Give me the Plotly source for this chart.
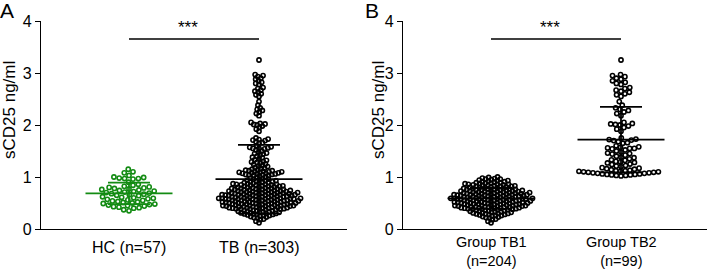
import numpy as np
import plotly.graph_objects as go

# ---------------- data ----------------
HC = [1.15, 1.10, 1.08, 1.03, 1.00, 0.99, 0.98, 0.97, 0.97, 0.96,
      0.90, 0.86, 0.84, 0.82, 0.81, 0.80, 0.79, 0.78, 0.77, 0.76,
      0.75, 0.74, 0.73, 0.72, 0.71, 0.70, 0.69, 0.68, 0.67, 0.66,
      0.65, 0.64, 0.62, 0.61, 0.60, 0.59, 0.58, 0.57, 0.56, 0.55,
      0.54, 0.53, 0.52, 0.51, 0.50, 0.49, 0.48, 0.47, 0.46, 0.45,
      0.44, 0.43, 0.42, 0.41, 0.40, 0.37, 0.35]

TB1 = [0.12, 0.15, 0.18, 0.19,
       0.21, 0.22, 0.23, 0.24, 0.25, 0.26, 0.26, 0.27, 0.28, 0.28, 0.29, 0.29,
       0.30, 0.30, 0.31, 0.31, 0.32, 0.32, 0.33, 0.33, 0.34, 0.34, 0.35, 0.35,
       0.36, 0.36, 0.37, 0.37, 0.38, 0.38, 0.39, 0.39, 0.39, 0.38,
       0.40, 0.40, 0.41, 0.41, 0.41, 0.42, 0.42, 0.42, 0.43, 0.43, 0.43, 0.44,
       0.44, 0.44, 0.45, 0.45, 0.45, 0.46, 0.46, 0.46, 0.47, 0.47, 0.47, 0.48,
       0.48, 0.48, 0.49, 0.49, 0.49, 0.40, 0.45, 0.48,
       0.50, 0.50, 0.50, 0.51, 0.51, 0.51, 0.52, 0.52, 0.52, 0.53, 0.53, 0.53,
       0.54, 0.54, 0.54, 0.55, 0.55, 0.55, 0.56, 0.56, 0.56, 0.57, 0.57, 0.57,
       0.58, 0.58, 0.58, 0.59, 0.59, 0.59, 0.50, 0.53, 0.55, 0.57, 0.58, 0.59,
       0.60, 0.60, 0.60, 0.61, 0.61, 0.61, 0.62, 0.62, 0.62, 0.63, 0.63, 0.63,
       0.64, 0.64, 0.64, 0.65, 0.65, 0.65, 0.66, 0.66, 0.66, 0.67, 0.67, 0.67,
       0.68, 0.68, 0.68, 0.69, 0.69, 0.69, 0.62, 0.64, 0.66, 0.68,
       0.70, 0.70, 0.70, 0.71, 0.71, 0.72, 0.72, 0.72, 0.73, 0.73, 0.74, 0.74,
       0.74, 0.75, 0.75, 0.76, 0.76, 0.76, 0.77, 0.77, 0.78, 0.78, 0.78, 0.79,
       0.79, 0.71, 0.73, 0.75,
       0.80, 0.80, 0.81, 0.81, 0.82, 0.82, 0.83, 0.83, 0.84, 0.84, 0.85, 0.85,
       0.86, 0.86, 0.87, 0.87, 0.88, 0.88, 0.89, 0.89, 0.82, 0.86,
       0.90, 0.91, 0.91, 0.92, 0.93, 0.93, 0.94, 0.95, 0.96, 0.96, 0.97, 0.98,
       0.99, 1.00]

TB2 = [3.25,
       2.97, 2.95, 2.93, 2.90, 2.88, 2.85, 2.82, 2.80, 2.78,
       2.72, 2.70, 2.67, 2.65, 2.63, 2.60, 2.58, 2.55,
       2.45, 2.38, 2.33, 2.30, 2.28, 2.25, 2.22, 2.18,
       2.05, 2.03, 2.02, 2.01, 2.00, 1.98, 1.95, 1.92, 1.88,
       1.75, 1.73, 1.72, 1.71, 1.70, 1.68, 1.66, 1.65,
       1.60, 1.58, 1.57, 1.56, 1.55, 1.55, 1.54, 1.52, 1.50, 1.48,
       1.46, 1.45, 1.44, 1.42, 1.40, 1.38, 1.37, 1.35, 1.33,
       1.32, 1.30, 1.29, 1.28, 1.27, 1.25, 1.24, 1.22, 1.21, 1.20,
       1.18, 1.17, 1.16, 1.15, 1.14, 1.13, 1.12, 1.11, 1.10, 1.10,
       1.09, 1.09, 1.08, 1.08, 1.07, 1.07, 1.06, 1.06, 1.05, 1.05,
       1.04, 1.04, 1.03, 1.02, 1.12, 1.11, 1.03]

TB = TB1 + TB2

CATS_A = ["HC (n=57)", "TB (n=303)"]
CATS_B = ["Group TB1<br>(n=204)", "Group TB2<br>(n=99)"]
SIG_A = "***"
SIG_B = "***"
Y_TITLE = "sCD25 ng/ml"
Y_TICKS = [0, 1, 2, 3, 4]

# ---------------- geometry / style ----------------
W, H = 708, 270
Y_TOP_PX, Y_BOT_PX = 21, 229
PX_PER_Y = (Y_BOT_PX - Y_TOP_PX) / 4.0
A_X0, A_X1 = 41, 347
B_X0, B_X1 = 403, 707
C1, C2 = 88, 218           # category centres (px from axis start)
GREEN = "#138B13"
BLACK = "#000000"
FONT = "Liberation Sans, Arial, sans-serif"


def swarm(vals, d):
    ys = np.asarray(vals, float) * PX_PER_Y
    order = np.argsort(ys, kind="stable")
    xs = np.zeros(len(ys))
    placed = []
    for i in order:
        y = ys[i]
        ivs = []
        for (px, py) in placed:
            dy = abs(py - y)
            if dy < d:
                dx = np.sqrt(d * d - dy * dy)
                ivs.append((px - dx, px + dx))
        cands = [0.0] + [a for a, b in ivs] + [b for a, b in ivs]
        cands.sort(key=lambda c: (abs(c), c))
        x = 0.0
        for c in cands:
            if all(not (a + 1e-6 < c < b - 1e-6) for a, b in ivs):
                x = c
                break
        xs[i] = x
        placed.append((x, y))
    return xs


def stat_trace(vals, cx, color, xa, ya):
    v = np.asarray(vals, float)
    m, s = v.mean(), v.std(ddof=1)
    x = [cx - 43.5, cx + 43.5, None, cx - 21, cx + 21, None,
         cx - 21, cx + 21, None, cx, cx]
    y = [m, m, None, m + s, m + s, None, m - s, m - s, None, m - s, m + s]
    return go.Scatter(x=x, y=y, mode="lines", xaxis=xa, yaxis=ya,
                      line=dict(color=color, width=1.8), hoverinfo="skip",
                      showlegend=False)


def dots(vals, cx, color, d, xa, ya):
    off = swarm(vals, d)
    return go.Scatter(x=cx + off, y=vals, mode="markers", xaxis=xa, yaxis=ya,
                      marker=dict(symbol="circle-open", size=4.2, color=color,
                                  line=dict(width=1.6, color=color)),
                      showlegend=False, hoverinfo="y")


fig = go.Figure()
# stats lines first (behind dots)
fig.add_trace(stat_trace(HC, C1, GREEN, "x", "y"))
fig.add_trace(stat_trace(TB, C2, BLACK, "x", "y"))
fig.add_trace(stat_trace(TB1, C1, BLACK, "x2", "y2"))
fig.add_trace(stat_trace(TB2, C2, BLACK, "x2", "y2"))
# dots
fig.add_trace(dots(HC, C1, GREEN, 5.4, "x", "y"))
fig.add_trace(dots(TB, C2, BLACK, 3.4, "x", "y"))
fig.add_trace(dots(TB1, C1, BLACK, 3.4, "x2", "y2"))
fig.add_trace(dots(TB2, C2, BLACK, 4.7, "x2", "y2"))

ydom = [(H - Y_BOT_PX) / H, (H - Y_TOP_PX) / H]
xa_common = dict(showline=True, linecolor="black", linewidth=1.3, ticks="",
                 showgrid=False, zeroline=False, automargin=False,
                 showticklabels=False, tickvals=[C1, C2], fixedrange=True)
ya_common = dict(range=[0, 4], showline=True, linecolor="black", linewidth=1.3,
                 ticks="outside", ticklen=5, tickwidth=1.3, tickcolor="black",
                 tickvals=Y_TICKS, showgrid=False, zeroline=False,
                 automargin=False, domain=ydom, fixedrange=True,
                 tickfont=dict(family=FONT, size=16, color="black"))

fig.update_layout(
    width=W, height=H, margin=dict(l=0, r=0, t=0, b=0),
    paper_bgcolor="white", plot_bgcolor="white",
    font=dict(family=FONT, color="black"),
    xaxis=dict(xa_common, domain=[A_X0 / W, A_X1 / W], range=[0, A_X1 - A_X0],
               anchor="y"),
    yaxis=dict(ya_common, anchor="x"),
    xaxis2=dict(xa_common, domain=[B_X0 / W, B_X1 / W], range=[0, B_X1 - B_X0],
                anchor="y2"),
    yaxis2=dict(ya_common, anchor="x2"),
)

lab_font = dict(family=FONT, size=16, color="black")
lab_font_b = dict(family=FONT, size=14.5, color="black")


def ypaper(px):
    return (H - px) / H


# category labels
for cx, txt in zip([C1, C2], CATS_A):
    fig.add_annotation(xref="x", yref="paper", x=cx, y=ypaper(247),
                       yanchor="middle", text=txt, showarrow=False, font=lab_font)
for cx, txt in zip([C1, C2], CATS_B):
    fig.add_annotation(xref="x2", yref="paper", x=cx, y=ypaper(251.5),
                       yanchor="middle", text=txt, showarrow=False,
                       font=lab_font_b, borderpad=0)

SIG_Y = 3.654
for xr, yr, txt in [("x", "y", SIG_A), ("x2", "y2", SIG_B)]:
    fig.add_shape(type="line", xref=xr, yref=yr, x0=C1, x1=C2, y0=SIG_Y, y1=SIG_Y,
                  line=dict(color="black", width=1.6))
    fig.add_annotation(xref=xr, yref=yr, x=(C1 + C2) / 2 - 6, y=3.66,
                       yanchor="bottom", text=txt, showarrow=False,
                       font=dict(family=FONT, size=17, color="black"))

# y titles and panel letters
for xpx, letter, lx in [(9, "A", 0), (378, "B", 365)]:
    fig.add_annotation(xref="paper", yref="paper", x=xpx / W, y=ypaper(110),
                       xanchor="center", yanchor="middle",
                       text=Y_TITLE, textangle=-90, showarrow=False,
                       font=dict(family=FONT, size=17, color="black"))
    fig.add_annotation(xref="paper", yref="paper", x=lx / W, y=1.0,
                       xanchor="left", yanchor="top", text=letter,
                       showarrow=False, xshift=-2, yshift=3,
                       font=dict(family=FONT, size=21, color="black"))

fig.write_html("out.html",
               config={"displayModeBar": False},
               post_script="document.body.style.margin='0';"
                           "document.body.style.overflow='hidden';")
